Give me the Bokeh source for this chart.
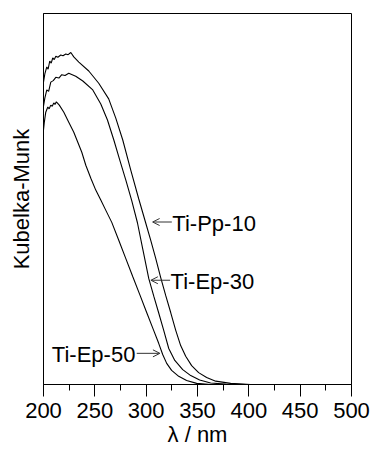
from bokeh.plotting import figure
from bokeh.models import Range1d, FixedTicker, Arrow, OpenHead
from bokeh.core.properties import value
from bokeh.embed import file_html
from bokeh.resources import INLINE

# ---- data ----
wl_pp10 = [200, 201.3, 203.2, 204.5, 206.1, 207.5, 209.0, 210.5, 212.0, 214.0, 216.8, 219.0,
           221.7, 224.0, 226.6, 229.5, 234.4, 244.1, 253.8, 263.5, 270.4, 277.2, 285.0,
           292.8, 299.5, 304.4, 309.3, 314.1, 319.0, 323.9, 328.8, 333.6, 338.5, 344.3,
           351.1, 358.9, 367.7, 382.3, 401.7, 500]
km_pp10 = [81.5, 83.7, 85.6, 85.0, 87.2, 86.6, 88.0, 87.6, 88.5, 88.2, 88.8, 88.6,
           89.1, 88.9, 89.5, 88.3, 86.9, 84.5, 81.2, 77.0, 71.8, 65.9, 57.8,
           50.0, 43.6, 38.9, 34.0, 28.9, 24.0, 19.4, 14.6, 10.5, 7.6, 5.1,
           3.2, 1.9, 0.9, 0.3, 0.0, 0.0]

wl_ep30 = [200, 201.3, 203.2, 205.0, 207.1, 209.5, 212.0, 215.0, 217.8, 221.0, 224.6, 231.4,
           238.3, 248.0, 255.8, 262.3, 268.5, 274.3, 280.2, 286.0, 291.5, 296.7, 302.5,
           307.4, 312.3, 317.1, 322.0, 327.9, 335.6, 343.4, 352.1, 362.8, 377.4, 396.9, 500]
km_ep30 = [75.0, 77.2, 79.4, 79.0, 81.5, 81.9, 82.8, 82.6, 83.5, 83.3, 83.9, 83.1,
           81.8, 79.4, 75.6, 71.3, 65.9, 60.5, 55.1, 49.5, 43.6, 36.5, 28.6,
           23.8, 19.2, 14.6, 9.7, 6.5, 4.0, 2.4, 1.2, 0.4, 0.1, 0.0, 0.0]

wl_ep50 = [200, 200.8, 202.2, 204.2, 205.5, 207.1, 208.5, 210.0, 211.2, 212.5, 215.4, 219.8,
           224.6, 229.5, 233.4, 237.3, 241.2, 246.1, 250.9, 255.8, 260.6, 266.5, 273.3,
           280.1, 286.9, 293.7, 300.5, 307.3, 312.2, 316.1, 320.0, 324.8, 331.7, 339.4,
           349.2, 362.8, 500]
km_ep50 = [68.6, 70.7, 73.4, 74.8, 74.3, 75.3, 75.0, 75.9, 75.5, 76.2, 75.3, 73.4,
           70.7, 68.0, 65.3, 62.6, 59.1, 55.6, 52.4, 49.7, 47.0, 43.7, 38.9,
           34.0, 29.1, 24.3, 19.4, 14.6, 11.1, 8.1, 5.7, 3.8, 2.2, 1.1,
           0.3, 0.0, 0.0]

# series labels and their pointing arrows
label_names = ["Ti-Pp-10", "Ti-Ep-30", "Ti-Ep-50"]
name_x = [325.5, 323.8, 289.5]
name_y = [43.5, 27.8, 8.1]
arrow_from_x = [325.0, 323.3, 290.8]
arrow_to_x = [306.3, 304.6, 313.4]
arrow_y = [43.8, 28.1, 8.4]

x_ticks = [200, 250, 300, 350, 400, 450, 500]
x_minor = [225, 275, 325, 375, 425, 475]

FONT = "Liberation Sans"
FS = "22px"

p = figure(width=371, height=452, output_backend="svg", toolbar_location=None,
           x_range=Range1d(200, 500), y_range=Range1d(0, 100),
           min_border_left=43, min_border_right=20, min_border_top=13,
           min_border_bottom=68)
p.xgrid.visible = False
p.ygrid.visible = False
p.outline_line_color = "black"
p.outline_line_width = 1
p.background_fill_color = "white"
p.border_fill_color = "white"

for xs, ys in [(wl_pp10, km_pp10), (wl_ep30, km_ep30), (wl_ep50, km_ep50)]:
    p.line(xs, ys, line_color="black", line_width=1.1)

p.text(x=name_x[:2], y=name_y[:2], text=label_names[:2], text_font=value(FONT),
       text_font_size=FS, text_align="left", text_baseline="middle",
       text_color="black")
p.text(x=name_x[2:], y=name_y[2:], text=label_names[2:], text_font=value(FONT),
       text_font_size=FS, text_align="right", text_baseline="middle",
       text_color="black")

for x0, x1, yy in zip(arrow_from_x, arrow_to_x, arrow_y):
    p.add_layout(Arrow(end=OpenHead(size=7, line_width=1, line_color="#333333"),
                       x_start=x0, y_start=yy, x_end=x1, y_end=yy,
                       line_width=1, line_color="#333333"))

xa = p.xaxis[0]
xa.ticker = FixedTicker(ticks=x_ticks, minor_ticks=x_minor)
xa.major_tick_out = 12
xa.major_tick_in = 0
xa.minor_tick_out = 6
xa.minor_tick_in = 0
xa.major_label_standoff = 6
xa.major_label_text_font = FONT
xa.major_label_text_font_size = FS
xa.major_label_text_color = "black"
xa.axis_label = "\u03bb / nm"
xa.axis_label_text_font = FONT
xa.axis_label_text_font_size = FS
xa.axis_label_text_font_style = "normal"
xa.axis_label_text_color = "black"
xa.axis_label_standoff = 1
xa.axis_line_color = "black"
xa.major_tick_line_color = "black"
xa.minor_tick_line_color = "black"

ya = p.yaxis[0]
ya.ticker = FixedTicker(ticks=[])
ya.major_tick_out = 0
ya.minor_tick_out = 0
ya.major_tick_in = 0
ya.minor_tick_in = 0
ya.axis_label = "Kubelka-Munk"
ya.axis_label_text_font = FONT
ya.axis_label_text_font_size = FS
ya.axis_label_text_font_style = "normal"
ya.axis_label_text_color = "black"
ya.axis_label_standoff = 10
ya.axis_line_color = "black"

open("out.html", "w").write(file_html(p, INLINE))
